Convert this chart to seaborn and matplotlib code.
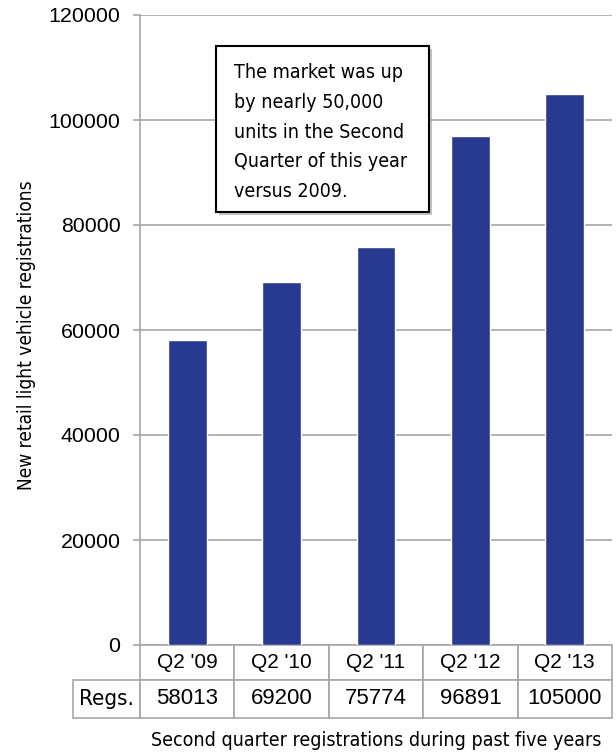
import matplotlib
matplotlib.use('Agg')
import matplotlib.pyplot as plt
import seaborn as sns
import pandas as pd
from matplotlib.table import Table
from matplotlib.patches import Rectangle
from matplotlib.font_manager import FontProperties

categories = ["Q2 '09", "Q2 '10", "Q2 '11", "Q2 '12", "Q2 '13"]
registrations = [58013, 69200, 75774, 96891, 105000]
row_label = "Regs."
y_ticks = [0, 20000, 40000, 60000, 80000, 100000, 120000]
y_label = "New retail light vehicle registrations"
x_label = "Second quarter registrations during past five years"
note = ("The market was up\nby nearly 50,000\nunits in the Second\n"
        "Quarter of this year\nversus 2009.")

sns.set_style('white')
REG = ['Liberation Sans', 'DejaVu Sans']
plt.rcParams['font.family'] = REG
plt.rcParams['text.color'] = 'black'
NARROW = dict(family='DejaVu Sans', stretch='condensed')

BAR = '#283a90'
GRID = '#a6a6a6'
W, H = 616, 753
AX_W, AX_H = 472, 630

fig = plt.figure(figsize=(W / 100, H / 100), dpi=100)
ax = fig.add_axes([140 / W, 1 - 645 / H, AX_W / W, AX_H / H])

df = pd.DataFrame({'cat': categories, 'val': registrations})
sns.barplot(data=df, x='cat', y='val', color=BAR, width=0.41, saturation=1,
            ax=ax, zorder=3)
ax.set_ylim(0, 120000)
ax.set_xlim(-0.5, 4.5)
ax.set_yticks(y_ticks)
ax.set_yticklabels([str(t) for t in y_ticks], fontsize=15.4, color='black')
ax.tick_params(axis='y', length=5, color=GRID, width=1.2, pad=9, left=True)
ax.set_xticks([])
ax.set_xlabel('')
ax.set_ylabel('')
ax.yaxis.grid(True, color=GRID, lw=1.2)
ax.set_axisbelow(True)
for s in ['top', 'right', 'bottom']:
    ax.spines[s].set_visible(False)
ax.spines['left'].set_color(GRID)
ax.spines['left'].set_linewidth(1.2)

# data table beneath the axis (sizes in axes units)
h0, h1 = 35 / AX_H, 38 / AX_H
tbl = Table(ax, bbox=[0, -(h0 + h1), 1, h0 + h1])
colw = 1 / len(categories)
for j, c in enumerate(categories):
    tbl.add_cell(0, j, width=colw, height=h0, text=c, loc='center')
tbl.add_cell(1, -1, width=67 / AX_W, height=h1, text=row_label, loc='center')
for j, v in enumerate(registrations):
    tbl.add_cell(1, j, width=colw, height=h1, text=str(v), loc='center')
tbl.auto_set_font_size(False)
tbl.set_fontsize(15)
for (r, c), cell in tbl.get_celld().items():
    cell.set_edgecolor(GRID)
    cell.set_linewidth(1.2)
    cell.get_text().set_color('black')
    if r == 1 and c >= 0:
        cell.get_text().set_fontsize(16)
tbl[1, -1].get_text().set_fontproperties(FontProperties(size=16, **NARROW))
ax.add_table(tbl)

# annotation box with shadow
bx, by, bw, bh = 216, 46, 213, 166
shadow = Rectangle(((bx + 3) / W, 1 - (by + bh + 3) / H), bw / W, bh / H,
                   transform=fig.transFigure, facecolor='#9a9a9a',
                   edgecolor='none', alpha=0.6, zorder=5)
box = Rectangle((bx / W, 1 - (by + bh) / H), bw / W, bh / H,
                transform=fig.transFigure, facecolor='white',
                edgecolor='black', lw=1.5, zorder=6)
fig.patches.extend([shadow, box])
fig.text(234 / W, 1 - 63 / H, note, ha='left', va='top', fontsize=14,
         linespacing=1.72, zorder=7, **NARROW)

fig.text(27 / W, 1 - 335 / H, y_label, rotation=90, ha='center', va='center',
         fontsize=13.7, **NARROW)
fig.text(376 / W, 1 - 740 / H, x_label, ha='center', va='center',
         fontsize=14, **NARROW)

fig.savefig('out.png', dpi=100)
